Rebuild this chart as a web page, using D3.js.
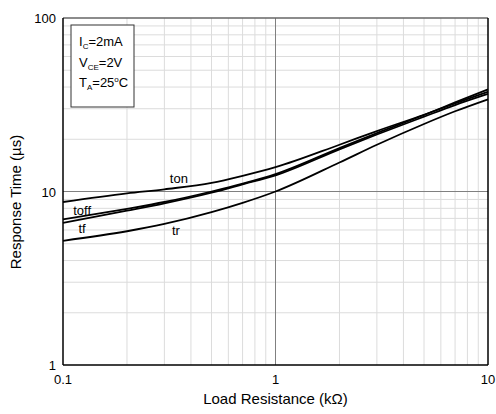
<!DOCTYPE html>
<html>
<head>
<meta charset="utf-8">
<script src="https://cdn.jsdelivr.net/npm/d3@7"></script>
<style>
  body { margin: 0; background: #fff; }
  text { font-family: "Liberation Sans", Arial, sans-serif; fill: #000; }
</style>
</head>
<body>
<div id="chart-area"></div>
<script>
// load resistance (kOhm) sample points
const loadRes = [0.1, 0.2, 0.3, 0.5, 0.7, 1, 2, 3, 5, 7, 10];

// response times (us)
const tOn  = [8.7, 9.75, 10.3, 11.2, 12.3, 13.8, 18.6, 22.3, 27.7, 32.2, 37.6];
const tOff = [6.9, 7.95, 8.7, 10.0, 11.1, 12.6, 17.8, 21.7, 27.6, 32.6, 38.8];
const tF   = [6.6, 7.75, 8.55, 9.85, 11.0, 12.4, 17.5, 21.3, 27.0, 31.5, 36.5];
const tR   = [5.2, 5.9, 6.5, 7.6, 8.6, 10.0, 14.7, 18.6, 24.5, 29.0, 34.0];

const series = [
  { name: 'ton', values: tOn },
  { name: 'toff', values: tOff },
  { name: 'tf', values: tF },
  { name: 'tr', values: tR }
];

const xTicks = [0.1, 1, 10];
const yTicks = [1, 10, 100];

const width = 496, height = 414;
const margin = { top: 18, right: 8, bottom: 49, left: 63 };
const innerW = width - margin.left - margin.right;
const innerH = height - margin.top - margin.bottom;

const x = d3.scaleLog().domain([0.1, 10]).range([0, innerW]);
const y = d3.scaleLog().domain([1, 100]).range([innerH, 0]);

const svg = d3.select('#chart-area').append('svg')
  .attr('width', width)
  .attr('height', height);

const g = svg.append('g')
  .attr('transform', `translate(${margin.left}, ${margin.top})`);

// minor grid
const minorX = [], minorY = [];
[0.1, 1].forEach(d => { for (let k = 2; k <= 9; k++) minorX.push(d * k); });
[1, 10].forEach(d => { for (let k = 2; k <= 9; k++) minorY.push(d * k); });

g.selectAll('.gx').data(minorX).enter().append('line')
  .attr('x1', d => x(d)).attr('x2', d => x(d))
  .attr('y1', 0).attr('y2', innerH)
  .attr('stroke', '#dcdcdc').attr('stroke-width', 1);

g.selectAll('.gy').data(minorY).enter().append('line')
  .attr('x1', 0).attr('x2', innerW)
  .attr('y1', d => y(d)).attr('y2', d => y(d))
  .attr('stroke', '#dcdcdc').attr('stroke-width', 1);

// major grid
g.append('line')
  .attr('x1', x(1)).attr('x2', x(1))
  .attr('y1', 0).attr('y2', innerH)
  .attr('stroke', '#808080').attr('stroke-width', 1);
g.append('line')
  .attr('x1', 0).attr('x2', innerW)
  .attr('y1', y(10)).attr('y2', y(10))
  .attr('stroke', '#808080').attr('stroke-width', 1);

// frame
g.append('line').attr('x1', 0).attr('x2', innerW).attr('y1', 0).attr('y2', 0)
  .attr('stroke', '#666').attr('stroke-width', 1.5);
g.append('line').attr('x1', innerW).attr('x2', innerW).attr('y1', 0).attr('y2', innerH)
  .attr('stroke', '#000').attr('stroke-width', 1.5);
g.append('line').attr('x1', 0).attr('x2', 0).attr('y1', 0).attr('y2', innerH)
  .attr('stroke', '#000').attr('stroke-width', 1.5);
g.append('line').attr('x1', 0).attr('x2', innerW).attr('y1', innerH).attr('y2', innerH)
  .attr('stroke', '#000').attr('stroke-width', 1.5);

// curves
const line = d3.line()
  .x(d => x(d[0]))
  .y(d => y(d[1]))
  .curve(d3.curveMonotoneX);

series.forEach(s => {
  g.append('path')
    .datum(loadRes.map((r, i) => [r, s.values[i]]))
    .attr('fill', 'none')
    .attr('stroke', '#000')
    .attr('stroke-width', 1.8)
    .attr('d', line);
});

// curve labels
const curveLabels = [
  { text: 'ton', at: [0.351, 11.2] },
  { text: 'toff', at: [0.123, 7.3] },
  { text: 'tf', at: [0.123, 5.8] },
  { text: 'tr', at: [0.34, 5.6] }
];
curveLabels.forEach(l => {
  g.append('text')
    .attr('x', x(l.at[0]))
    .attr('y', y(l.at[1]))
    .attr('text-anchor', 'middle')
    .attr('font-size', '13px')
    .text(l.text);
});

// tick labels
g.selectAll('.xt').data(xTicks).enter().append('text')
  .attr('x', d => x(d))
  .attr('y', innerH + 19)
  .attr('text-anchor', 'middle')
  .attr('font-size', '13px')
  .text(d => d);

g.selectAll('.yt').data(yTicks).enter().append('text')
  .attr('x', -7)
  .attr('y', d => y(d) + 5)
  .attr('text-anchor', 'end')
  .attr('font-size', '13px')
  .text(d => d);

// axis titles
g.append('text')
  .attr('x', innerW / 2)
  .attr('y', innerH + 39)
  .attr('text-anchor', 'middle')
  .attr('font-size', '15px')
  .text('Load Resistance (kΩ)');

g.append('text')
  .attr('transform', 'rotate(-90)')
  .attr('x', -184)
  .attr('y', -42)
  .attr('text-anchor', 'middle')
  .attr('font-size', '15px')
  .text('Response Time (µs)');

// condition box
const box = g.append('g').attr('transform', 'translate(8, 7)');
box.append('rect')
  .attr('width', 63).attr('height', 82)
  .attr('fill', '#fff')
  .attr('stroke', '#333').attr('stroke-width', 1);

const conds = [
  { main: 'I', sub: 'C', rest: '=2mA' },
  { main: 'V', sub: 'CE', rest: '=2V' },
  { main: 'T', sub: 'A', rest: '=25', deg: true }
];
conds.forEach((c, i) => {
  const t = box.append('text')
    .attr('x', 8)
    .attr('y', 21 + i * 20.5)
    .attr('font-size', '13px');
  t.append('tspan').text(c.main);
  t.append('tspan').attr('font-size', '8px').attr('dy', 3).text(c.sub);
  t.append('tspan').attr('dy', -3).text(c.rest);
  if (c.deg) {
    t.append('tspan').attr('font-size', '8px').attr('dy', -5).text('o');
    t.append('tspan').attr('dy', 5).text('C');
  }
});
</script>
</body>
</html>
